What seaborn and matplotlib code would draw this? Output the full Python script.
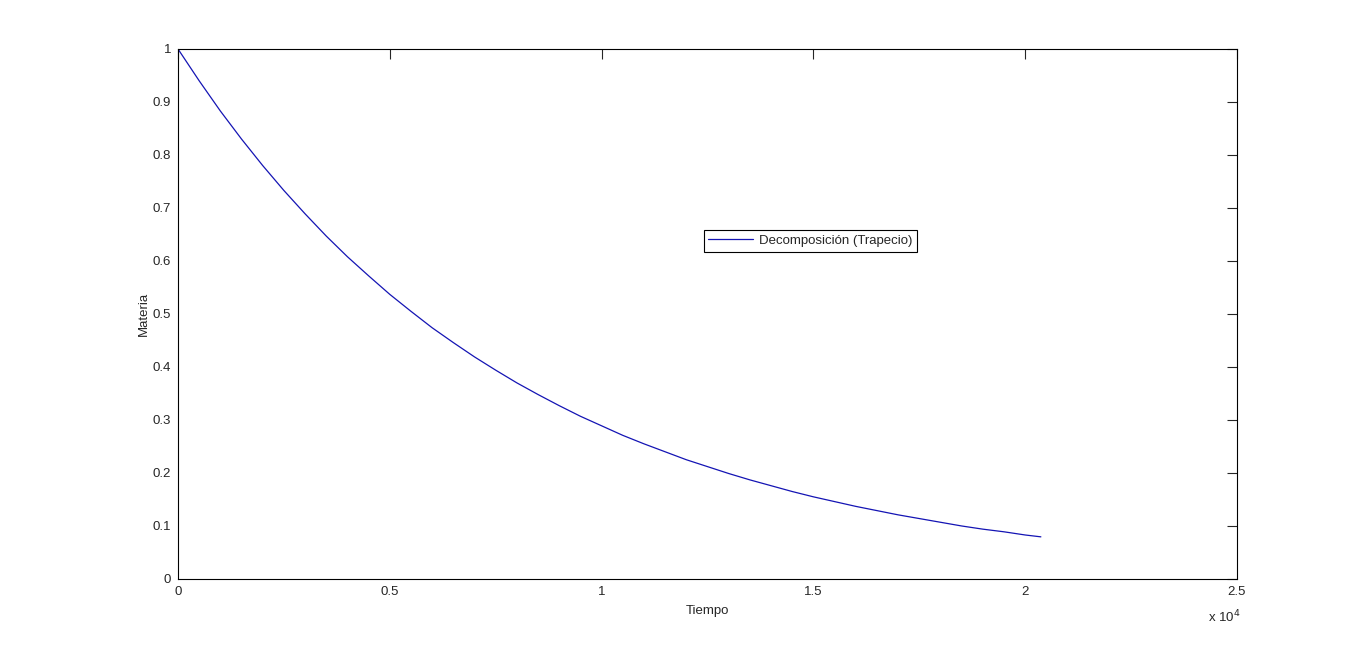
import matplotlib
matplotlib.use("Agg")
import matplotlib.pyplot as plt
from matplotlib.ticker import FuncFormatter
import seaborn as sns
import pandas as pd

# curve (time in years, fraction of matter left)
tiempo = [0, 500, 1000, 1500, 2000, 2500, 3000, 3500, 4000, 4500, 5000,
          5500, 6000, 6500, 7000, 7500, 8000, 8500, 9000, 9500, 10000,
          10500, 11000, 11500, 12000, 12500, 13000, 13500, 14000, 14500,
          15000, 15500, 16000, 16500, 17000, 17500, 18000, 18500, 19000,
          19500, 20000, 20370]
materia = [1.000, 0.940, 0.883, 0.830, 0.780, 0.733, 0.689, 0.647, 0.608,
           0.572, 0.537, 0.505, 0.474, 0.446, 0.419, 0.394, 0.370, 0.348,
           0.327, 0.307, 0.289, 0.271, 0.255, 0.240, 0.225, 0.212, 0.199,
           0.187, 0.176, 0.165, 0.155, 0.146, 0.137, 0.129, 0.121, 0.114,
           0.107, 0.100, 0.094, 0.089, 0.083, 0.0795]
x_ticks = [0, 5000, 10000, 15000, 20000, 25000]
y_ticks = [0, 0.1, 0.2, 0.3, 0.4, 0.5, 0.6, 0.7, 0.8, 0.9, 1.0]

sns.set_style("white")
plt.rcParams["font.family"] = ["Liberation Sans", "DejaVu Sans"]

df = pd.DataFrame({"Tiempo": tiempo, "Materia": materia})

fig = plt.figure(figsize=(13.67, 6.52), dpi=100)
ax = fig.add_axes([0.1302, 0.1120, 0.7747, 0.8129])
sns.lineplot(data=df, x="Tiempo", y="Materia", color="#1414b4", linewidth=0.9,
             label="Decomposición (Trapecio)", ax=ax)

ax.set_xlim(0, 25000)
ax.set_ylim(0, 1)
ax.set_xticks(x_ticks)
ax.set_yticks(y_ticks)
ax.xaxis.set_major_formatter(FuncFormatter(lambda v, p: f"{v / 1e4:g}"))
ax.yaxis.set_major_formatter(FuncFormatter(lambda v, p: f"{v:g}"))
ax.tick_params(direction="in", length=7, width=0.8, labelsize=9.5,
               top=True, right=True, pad=5)
for s in ax.spines.values():
    s.set_visible(True)
    s.set_color("black")
    s.set_linewidth(0.8)

ax.set_xlabel("Tiempo", fontsize=9.5, labelpad=5)
ax.set_ylabel("Materia", fontsize=9.5, labelpad=2)
ax.text(1.003, -0.056, "x 10$^4$", transform=ax.transAxes, fontsize=9.5,
        ha="right", va="top")

leg = ax.legend(loc="center", bbox_to_anchor=(0.597, 0.638), fontsize=9.5,
                fancybox=False, framealpha=1, edgecolor="black",
                handlelength=3.4, borderpad=0.35, handletextpad=0.4)
leg.get_frame().set_linewidth(0.8)

fig.savefig("out.png", dpi=100, facecolor="white")
